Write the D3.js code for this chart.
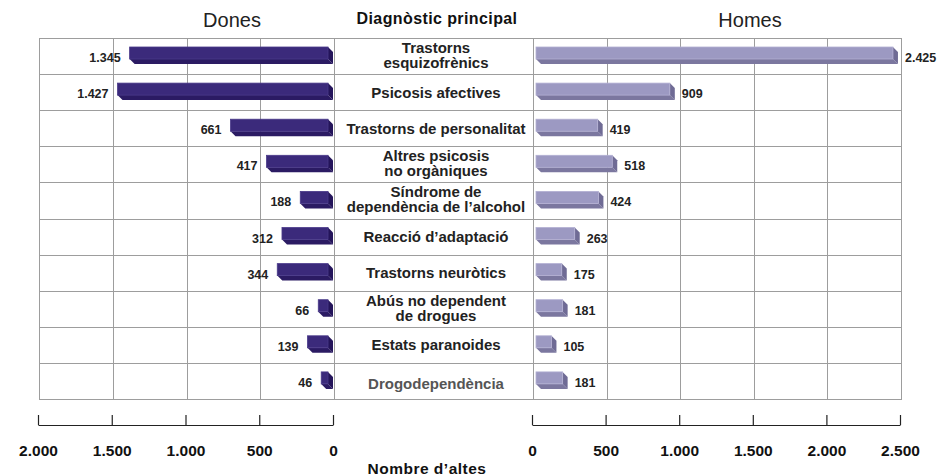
<!DOCTYPE html>
<html>
<head>
<meta charset="utf-8">
<script src="https://cdn.jsdelivr.net/npm/d3@7"></script>
<style>
  html, body { margin: 0; padding: 0; background: #fff; }
  svg { display: block; font-family: "Liberation Sans", Arial, Helvetica, sans-serif; }
</style>
</head>
<body>
<svg id="chart" width="939" height="476"></svg>
<script>
// Diagnòstic principal — nombre d'altes per sexe
const categories = [
  ["Trastorns", "esquizofrènics"],
  ["Psicosis afectives"],
  ["Trastorns de personalitat"],
  ["Altres psicosis", "no orgàniques"],
  ["Síndrome de", "dependència de l’alcohol"],
  ["Reacció d’adaptació"],
  ["Trastorns neuròtics"],
  ["Abús no dependent", "de drogues"],
  ["Estats paranoides"],
  ["Drogodependència"]
];
const dones = [1345, 1427, 661, 417, 188, 312, 344, 66, 139, 46];
const homes = [2425, 909, 419, 518, 424, 263, 175, 181, 105, 181];
const donesTicks = [0, 500, 1000, 1500, 2000];
const homesTicks = [0, 500, 1000, 1500, 2000, 2500];
const titles = { left: "Dones", middle: "Diagnòstic principal", right: "Homes", axis: "Nombre d’altes" };

const locale = d3.formatLocale({ decimal: ",", thousands: ".", grouping: [3], currency: ["", " €"] });
const fmt = locale.format(",d");

const svg = d3.select("#chart");

// layout
const gridTop = 38, gridBottom = 399;
const gridLeft = 39, gridRight = 901;
const midLeft = 334, midRight = 533;
const axisY = 425;

const xL = d3.scaleLinear().domain([0, 2000]).range([midLeft, gridLeft]);
const xR = d3.scaleLinear().domain([0, 2500]).range([midRight, gridRight]);
const y = d3.scaleBand().domain(d3.range(categories.length)).range([gridTop, gridBottom]).padding(0);
const rowH = y.bandwidth();

// grid
const grid = svg.append("g").attr("stroke", "#9d9d9d").attr("stroke-width", 1).attr("fill", "none");
const rowLines = d3.range(categories.length + 1).map(i => gridTop + i * rowH);
grid.selectAll("line.h").data(rowLines).join("line")
  .attr("x1", gridLeft).attr("x2", gridRight)
  .attr("y1", d => Math.round(d) + 0.5).attr("y2", d => Math.round(d) + 0.5);
const vLines = [gridLeft, ...donesTicks.slice(1, -1).map(xL), midLeft, midRight,
  ...homesTicks.slice(1, -1).map(xR), gridRight];
grid.selectAll("line.v").data(vLines).join("line")
  .attr("x1", d => Math.round(d) + 0.5).attr("x2", d => Math.round(d) + 0.5)
  .attr("y1", gridTop).attr("y2", Math.round(gridBottom) + 1);

// 3D bars
const barTop = 9, barH = 12, depth = 5;
function bar3d(g, x, yy, w, colors) {
  g.append("polygon")
    .attr("points", [[x, yy + barH], [x + w, yy + barH], [x + w + depth, yy + barH + depth], [x + depth, yy + barH + depth]].join(" "))
    .attr("fill", colors.bottom);
  g.append("polygon")
    .attr("points", [[x + w, yy], [x + w + depth, yy + depth], [x + w + depth, yy + barH + depth], [x + w, yy + barH]].join(" "))
    .attr("fill", colors.side);
  g.append("rect").attr("x", x).attr("y", yy).attr("width", w).attr("height", barH)
    .attr("fill", colors.front).attr("stroke", colors.edge).attr("stroke-width", 0.8);
}
const leftColors = { front: "#3b2a7b", side: "#24145a", bottom: "#2b1b63", edge: "#4a3a8a" };
const rightColors = { front: "#9c99c2", side: "#6f6b95", bottom: "#7b779f", edge: "#b3b0d3" };

const bars = svg.append("g");
const labelStyle = s => s.attr("font-size", "12.5px").attr("font-weight", "bold").attr("fill", "#222");

dones.forEach((v, i) => {
  const yy = y(i) + barTop;
  const x1 = xL(0) - 6, x0 = xL(v) - 6;
  bar3d(bars, x0, yy, x1 - x0, leftColors);
  bars.append("text").call(labelStyle)
    .attr("x", x0 - 9).attr("y", y(i) + rowH / 2 + 6)
    .attr("text-anchor", "end").text(fmt(v));
});
homes.forEach((v, i) => {
  const yy = y(i) + barTop;
  const x0 = xR(0) + 3, x1 = xR(v) + 3;
  bar3d(bars, x0, yy, x1 - x0, rightColors);
  bars.append("text").call(labelStyle)
    .attr("x", x1 + 12).attr("y", y(i) + rowH / 2 + 6)
    .attr("text-anchor", "start").text(fmt(v));
});

// category labels
const catX = 436;
const cats = svg.append("g").attr("font-size", "15px").attr("font-weight", "bold").attr("text-anchor", "middle");
categories.forEach((lines, i) => {
  const c = y(i) + rowH / 2;
  const last = i === categories.length - 1;
  const t = cats.append("text").attr("fill", last ? "#555" : "#222");
  if (lines.length === 1) {
    t.append("tspan").attr("x", catX).attr("y", c + (last ? 8.5 : 5.5)).text(lines[0]);
  } else {
    lines.forEach((l, k) => t.append("tspan").attr("x", catX).attr("y", c - 3 + k * 14.8).text(l));
  }
});

// headers
svg.append("text").attr("x", 232).attr("y", 27).attr("text-anchor", "middle")
  .attr("font-size", "20px").attr("fill", "#222").text(titles.left);
svg.append("text").attr("x", 750).attr("y", 27).attr("text-anchor", "middle")
  .attr("font-size", "20px").attr("fill", "#222").text(titles.right);
svg.append("text").attr("x", 437).attr("y", 24).attr("text-anchor", "middle")
  .attr("font-size", "16px").attr("font-weight", "bold").attr("letter-spacing", "0.4px")
  .attr("fill", "#111").text(titles.middle);

// axes
function styleAxis(g) {
  g.select(".domain").attr("stroke", "#222").attr("stroke-width", 1.2);
  g.selectAll(".tick line").attr("stroke", "#222").attr("stroke-width", 1.2);
  g.selectAll(".tick text").attr("font-size", "15.5px").attr("font-weight", "bold")
    .attr("fill", "#111").attr("font-family", "Liberation Sans, Arial, sans-serif");
}
const axL = d3.axisBottom(xL).tickValues(donesTicks).tickFormat(fmt)
  .tickSizeInner(-10).tickSizeOuter(0).tickPadding(20);
const axR = d3.axisBottom(xR).tickValues(homesTicks).tickFormat(fmt)
  .tickSizeInner(-10).tickSizeOuter(0).tickPadding(20);
svg.append("g").attr("transform", `translate(-1,${axisY})`).call(axL).call(styleAxis);
svg.append("g").attr("transform", `translate(-1,${axisY})`).call(axR).call(styleAxis);

svg.append("text").attr("x", 427).attr("y", 474).attr("text-anchor", "middle")
  .attr("font-size", "15.5px").attr("font-weight", "bold").attr("letter-spacing", "0.5px")
  .attr("fill", "#111").text(titles.axis);
</script>
</body>
</html>
